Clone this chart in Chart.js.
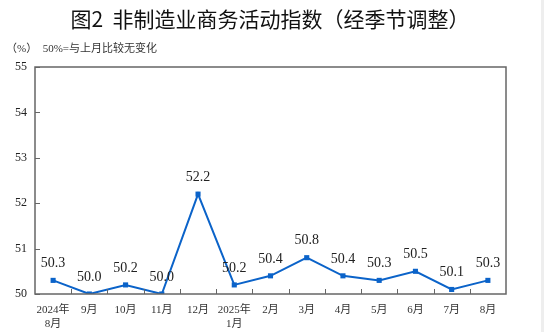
<!DOCTYPE html>
<html>
<head>
<meta charset="utf-8">
<script src="https://cdn.jsdelivr.net/npm/chart.js@4"></script>
<style>
  html, body { margin: 0; padding: 0; background: #fff; }
  #wrap { position: relative; width: 544px; height: 332px; overflow: hidden; }
  #titulo { position: absolute; left: 0; top: 4px; width: 540px; text-align: center;
    font: 21px "Noto Sans CJK SC", sans-serif; color: #111; line-height: 28px; }
  #subtitulo { position: absolute; left: 6px; top: 39px; font: 11px "Liberation Serif", "Noto Sans CJK SC", serif;
    color: #333; white-space: pre; }
  #franja { position: absolute; right: 0; top: 0; width: 3px; height: 332px; background: #eeeeee; }
  canvas { position: absolute; left: 0; top: 0; }
</style>
</head>
<body>
<div id="wrap">
  <canvas id="graficaIndice" width="544" height="332"></canvas>
  <div id="titulo">图2&nbsp;&nbsp;非制造业商务活动指数（经季节调整）</div>
  <div id="subtitulo">（%）  50%=与上月比较无变化</div>
  <div id="franja"></div>
</div>
<script>
const categorias = [['2024年', '8月'], '9月', '10月', '11月', '12月', ['2025年', '1月'],
    '2月', '3月', '4月', '5月', '6月', '7月', '8月'];
const valores = [50.3, 50.0, 50.2, 50.0, 52.2, 50.2, 50.4, 50.8, 50.4, 50.3, 50.5, 50.1, 50.3];
const ticksY = [50, 51, 52, 53, 54, 55];

const colorLinea = '#0b63c9';

// marco, marcas hacia dentro y etiquetas de valor
const extras = {
    id: 'extras',
    afterDraw(grafica) {
        const ctx = grafica.ctx;
        const area = grafica.chartArea;
        const x = grafica.scales.x;
        const y = grafica.scales.y;
        ctx.save();
        ctx.strokeStyle = '#666';
        ctx.lineWidth = 1.5;
        ctx.strokeRect(area.left, area.top, area.right - area.left, area.bottom - area.top);

        ctx.lineWidth = 1;
        ctx.beginPath();
        ticksY.forEach(function(v) {
            const py = Math.round(y.getPixelForValue(v)) + 0.5;
            ctx.moveTo(area.left, py);
            ctx.lineTo(area.left + 5, py);
        });
        for (let i = 1; i < categorias.length; i++) {
            const px = Math.round((x.getPixelForValue(i - 1) + x.getPixelForValue(i)) / 2) + 0.5;
            ctx.moveTo(px, area.bottom);
            ctx.lineTo(px, area.bottom - 5);
        }
        ctx.stroke();

        ctx.fillStyle = '#222';
        ctx.font = '14px "Liberation Serif", serif';
        ctx.textAlign = 'center';
        ctx.textBaseline = 'middle';
        valores.forEach(function(v, i) {
            ctx.fillText(v.toFixed(1), x.getPixelForValue(i), y.getPixelForValue(v) - 17);
        });
        ctx.restore();
    }
};

new Chart(document.getElementById('graficaIndice'), {
    type: 'line',
    data: {
        labels: categorias,
        datasets: [{
            data: valores,
            borderColor: colorLinea,
            backgroundColor: colorLinea,
            borderWidth: 2,
            pointStyle: 'rect',
            pointRadius: 3.6,
            pointBorderWidth: 0,
            tension: 0
        }]
    },
    options: {
        responsive: false,
        animation: false,
        layout: {
            padding: { top: 67, right: 38, left: 0, bottom: 0 }
        },
        plugins: {
            legend: { display: false },
            tooltip: { enabled: false }
        },
        scales: {
            x: {
                offset: true,
                grid: { display: false, drawTicks: false },
                border: { display: false },
                ticks: {
                    color: '#333',
                    padding: 10,
                    maxRotation: 0,
                    autoSkip: false,
                    font: { family: '"Liberation Serif", "Noto Sans CJK SC", serif', size: 11, lineHeight: 1.2 }
                },
                afterFit: function(escala) { escala.height = 38; }
            },
            y: {
                min: 50,
                max: 55,
                afterBuildTicks: function(escala) {
                    escala.ticks = ticksY.map(function(v) { return { value: v }; });
                },
                grid: { display: false, drawTicks: false },
                border: { display: false },
                ticks: {
                    color: '#222',
                    padding: 8,
                    font: { family: '"Liberation Serif", serif', size: 12 }
                },
                afterFit: function(escala) { escala.width = 35; }
            }
        }
    },
    plugins: [extras]
});
</script>
</body>
</html>
